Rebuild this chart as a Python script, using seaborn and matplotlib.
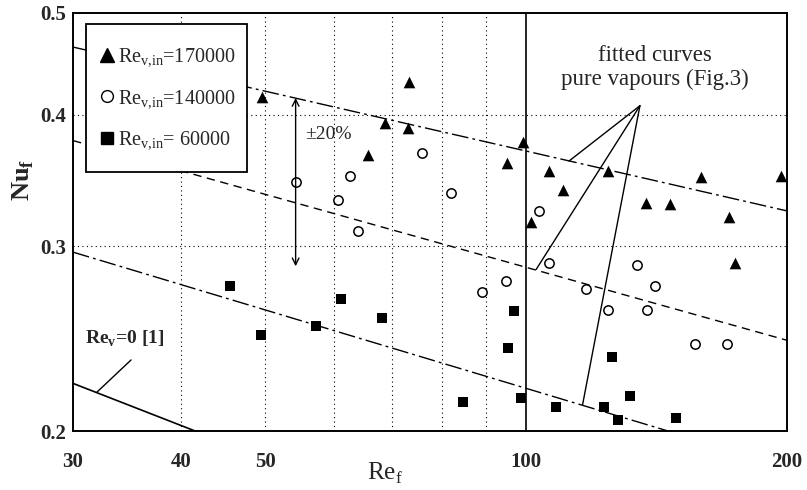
import seaborn as sns
import matplotlib.pyplot as plt
import pandas as pd
from matplotlib.lines import Line2D
from matplotlib.patches import Rectangle
from matplotlib.ticker import FixedLocator, FixedFormatter, NullLocator

# ---------------- data ----------------
# Re_v,in = 170000 (filled triangles)
re_170 = [49.6, 73.3, 68.7, 73.0, 65.7, 99.1, 95.0, 106.3, 110.4, 124.4,
          101.3, 137.5, 146.5, 159.1, 197.1, 171.4, 174.2]
nu_170 = [0.416, 0.430, 0.393, 0.389, 0.366, 0.377, 0.360, 0.354, 0.339, 0.354,
          0.316, 0.330, 0.329, 0.349, 0.350, 0.320, 0.289]

# Re_v,in = 140000 (open circles)
re_140 = [54.2, 62.7, 60.7, 63.9, 75.8, 81.9, 103.5, 106.3, 94.8, 89.0,
          134.3, 140.8, 117.2, 124.4, 138.0, 156.8, 170.4]
nu_140 = [0.345, 0.350, 0.332, 0.310, 0.368, 0.337, 0.324, 0.289, 0.278, 0.271,
          0.288, 0.275, 0.273, 0.261, 0.261, 0.242, 0.242]

# Re_v,in = 60000 (filled squares)
re_60 = [45.5, 49.4, 57.2, 61.1, 68.1, 96.7, 95.4, 84.6, 98.6, 108.2,
         125.7, 131.8, 123.0, 127.8, 148.9]
nu_60 = [0.275, 0.247, 0.252, 0.267, 0.256, 0.260, 0.240, 0.213, 0.215, 0.211,
         0.235, 0.216, 0.211, 0.205, 0.206]

# fitted curves (straight lines in log-log, end points)
fit_170_re = [30, 200]
fit_170_nu = [0.464, 0.324]
fit_140_re = [30, 200]
fit_140_nu = [0.378, 0.244]
fit_60_re = [30, 145.8]
fit_60_nu = [0.296, 0.200]
rev0_re = [30, 41.5]
rev0_nu = [0.222, 0.200]

x_ticks = [30, 40, 50, 100, 200]
y_ticks = [0.2, 0.3, 0.4, 0.5]
x_grid = [40, 50, 60, 70, 80, 90]
y_grid = [0.3, 0.4]

# ---------------- style ----------------
sns.set_theme(style="white")
plt.rcParams['font.family'] = ['Liberation Serif', 'DejaVu Serif']
plt.rcParams['mathtext.fontset'] = 'custom'
plt.rcParams['mathtext.rm'] = 'Liberation Serif'

fig = plt.figure(figsize=(8.07, 4.90), dpi=100)
ax = fig.add_axes([0.0905, 0.1204, 0.8847, 0.8531])

# grid (dotted) and the solid line at Re_f = 100
for gx in x_grid:
    ax.axvline(gx, color='black', lw=0.8, ls=(0, (1, 3)), zorder=0)
for gy in y_grid:
    ax.axhline(gy, color='black', lw=0.8, ls=(0, (1, 3)), zorder=0)
ax.axvline(100, color='black', lw=1.2, zorder=1)

# fitted curves
ax.plot(fit_170_re, fit_170_nu, color='black', lw=1, ls=(0, (12, 3, 2, 3)))
ax.plot(fit_140_re, fit_140_nu, color='black', lw=1, ls=(0, (6, 4)))
ax.plot(fit_60_re, fit_60_nu, color='black', lw=1, ls=(0, (12, 3, 2, 3)))
ax.plot(rev0_re, rev0_nu, color='black', lw=1.2)

# measured points
df170 = pd.DataFrame({'Re': re_170, 'Nu': nu_170})
df140 = pd.DataFrame({'Re': re_140, 'Nu': nu_140})
df60 = pd.DataFrame({'Re': re_60, 'Nu': nu_60})
sns.scatterplot(x='Re', y='Nu', data=df170, marker='^', color='black', s=70,
                linewidth=0, ax=ax, zorder=3)
sns.scatterplot(x='Re', y='Nu', data=df140, marker='o', color='white', s=45,
                edgecolor='black', linewidth=1.1, ax=ax, zorder=3)
sns.scatterplot(x='Re', y='Nu', data=df60, marker='s', color='black', s=60,
                linewidth=0, ax=ax, zorder=3)

# axes: log-log
ax.set_xscale('log')
ax.set_yscale('log')
ax.set_xlim(30, 200)
ax.set_ylim(0.2, 0.5)
ax.xaxis.set_major_locator(FixedLocator(x_ticks))
ax.xaxis.set_major_formatter(FixedFormatter([str(v) for v in x_ticks]))
ax.xaxis.set_minor_locator(NullLocator())
ax.yaxis.set_major_locator(FixedLocator(y_ticks))
ax.yaxis.set_major_formatter(FixedFormatter([str(v) for v in y_ticks]))
ax.yaxis.set_minor_locator(NullLocator())
ax.tick_params(length=0, labelsize=15)
ax.tick_params(axis='x', pad=15)
ax.tick_params(axis='y', pad=5)
for lab in ax.get_xticklabels() + ax.get_yticklabels():
    lab.set_fontweight('bold')
for sp in ax.spines.values():
    sp.set_color('black')
    sp.set_linewidth(1.4)

ax.set_xlabel(r'Re$_\mathregular{f}$', fontsize=18)
ax.xaxis.set_label_coords(0.437, -0.072)
ax.set_ylabel(r'Nu$_\mathregular{f}$', fontsize=19, fontweight='bold')
ax.yaxis.set_label_coords(-0.052, 0.60)

# legend: white box drawn separately, entries on top
ax.add_patch(Rectangle((0.0182, 0.6196), 0.2255, 0.354, transform=ax.transAxes,
                       facecolor='white', edgecolor='black', lw=1.3, zorder=4))
handles = [
    Line2D([], [], marker='^', color='black', ls='none', markersize=9.5),
    Line2D([], [], marker='o', markerfacecolor='white', markeredgecolor='black',
           ls='none', markersize=8.5),
    Line2D([], [], marker='s', color='black', ls='none', markersize=8.5),
]
labels = [r'Re$_\mathregular{v{,}in}$=170000', r'Re$_\mathregular{v{,}in}$=140000',
          r'Re$_\mathregular{v{,}in}$= 60000']
leg = ax.legend(handles, labels, loc='upper left', bbox_to_anchor=(0.036, 0.918),
                borderaxespad=0, borderpad=0, fontsize=14.5, frameon=False,
                labelspacing=0.95, handlelength=0.8, handletextpad=0.15)
leg.set_zorder(5)

# +-20% arrow
ax.annotate('', xy=(54.2, 0.415), xytext=(54.2, 0.287),
            arrowprops=dict(arrowstyle='<->', color='black', lw=1,
                            shrinkA=0, shrinkB=0))
ax.text(59.2, 0.383, '\u00b120%', fontsize=14, ha='center', va='center')

# Re_v = 0 label
ax.text(31.0, 0.245, r'Re$_\mathregular{v}$=0 [1]', fontsize=14,
        fontweight='bold', ha='left', va='center')
ax.annotate('', xy=(31.95, 0.2177), xytext=(35.0, 0.2337),
            arrowprops=dict(arrowstyle='-', color='black', lw=1,
                            shrinkA=0, shrinkB=0))

# fitted curves annotation
ax.text(140.8, 0.4437, 'fitted curves\npure vapours (Fig.3)', fontsize=16.5,
        ha='center', va='center', linespacing=1.2)
hub = (135.3, 0.408)
for end in [(112.1, 0.3615), (102.7, 0.285), (116.2, 0.212)]:
    ax.annotate('', xy=end, xytext=hub,
                arrowprops=dict(arrowstyle='-', color='black', lw=1,
                                shrinkA=0, shrinkB=0))

fig.savefig('out.png', dpi=100)
